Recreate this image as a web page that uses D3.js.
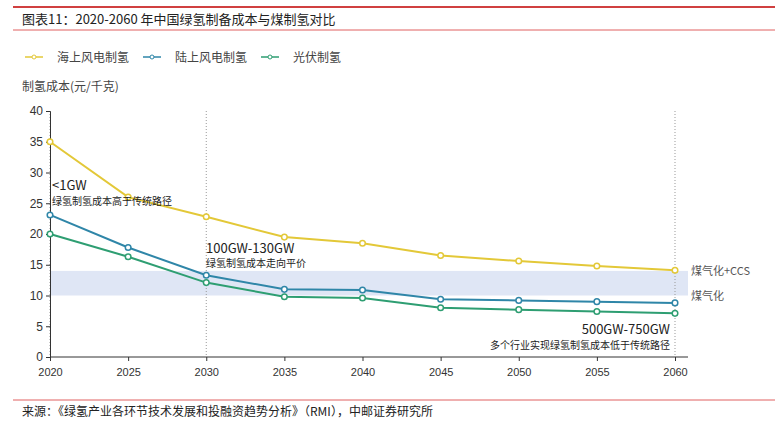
<!DOCTYPE html>
<html><head><meta charset="utf-8">
<script src="https://cdn.jsdelivr.net/npm/d3@7"></script>
<style>body{margin:0;background:#fff;font-family:"Noto Sans CJK SC","Noto Sans",sans-serif;}</style>
</head><body><svg width="775" height="425"></svg>
<script>
var years = [2020, 2025, 2030, 2035, 2040, 2045, 2050, 2055, 2060];
var offshore = [35, 26, 22.8, 19.5, 18.5, 16.5, 15.6, 14.8, 14.1];
var onshore = [23.1, 17.8, 13.3, 11, 10.9, 9.4, 9.2, 9.0, 8.8];
var solar = [20, 16.3, 12.1, 9.8, 9.6, 8, 7.7, 7.4, 7.1];
var names = ["海上风电制氢", "陆上风电制氢", "光伏制氢"];
var colors = ["#e3c838", "#2f86a8", "#2e9e72"];
var yTicks = [0, 5, 10, 15, 20, 25, 30, 35, 40];

var svg = d3.select("svg");
var x = d3.scaleLinear().domain([2020, 2060]).range([50, 675]);
var y = d3.scaleLinear().domain([0, 40]).range([357, 111]);

// title
svg.append("line").attr("x1", 13).attr("x2", 775).attr("y1", 7).attr("y2", 7).attr("stroke", "#c00000").attr("stroke-width", 1.5);
svg.append("text").attr("x", 22).attr("y", 24).attr("font-size", 13).attr("fill", "#222").text("图表11：2020-2060 年中国绿氢制备成本与煤制氢对比");
svg.append("line").attr("x1", 13).attr("x2", 775).attr("y1", 30).attr("y2", 30).attr("stroke", "#e06060").attr("stroke-width", 1);

// legend
var lg = svg.selectAll(".lg").data(names).enter().append("g").attr("transform", function(d, i){return "translate(" + (25 + i*118) + ",57)";});
lg.append("line").attr("x1", 0).attr("x2", 18).attr("stroke", function(d, i){return colors[i];}).attr("stroke-width", 1.5);
lg.append("circle").attr("cx", 9).attr("r", 2).attr("fill", "#fff").attr("stroke", function(d, i){return colors[i];});
lg.append("text").attr("x", 32).attr("y", 5).attr("font-size", 12).attr("fill", "#444").text(function(d){return d;});
svg.append("text").attr("x", 22).attr("y", 91).attr("font-size", 12).attr("fill", "#444").text("制氢成本(元/千克)");

// band
svg.append("rect").attr("x", x(2020)).attr("width", 688 - x(2020)).attr("y", y(14)).attr("height", y(10) - y(14)).attr("fill", "#dfe6f5");
svg.append("text").attr("x", 691).attr("y", y(14) + 4).attr("font-size", 11).attr("fill", "#555").text("煤气化+CCS");
svg.append("text").attr("x", 691).attr("y", y(10) + 4).attr("font-size", 11).attr("fill", "#555").text("煤气化");

// dotted verticals
[2020, 2030, 2060].forEach(function(v){
  svg.append("line").attr("x1", x(v)).attr("x2", x(v)).attr("y1", y(40)).attr("y2", y(0)).attr("stroke", "#999").attr("stroke-dasharray", "1,2");
});

// axes
var ya = svg.append("g").attr("transform", "translate(" + x(2020) + ",0)").call(d3.axisLeft(y).tickValues(yTicks).tickSize(4));
ya.selectAll("text").attr("font-size", 12).attr("fill", "#333");
var xa = svg.append("g").attr("transform", "translate(0," + y(0) + ")").call(d3.axisBottom(x).tickValues(years).tickFormat(d3.format("d")).tickSize(4).tickPadding(7));
xa.select(".domain").attr("d", "M" + x(2020) + ",0H688");
xa.selectAll("text").attr("font-size", 11).attr("fill", "#333");
[ya, xa].forEach(function(a){a.selectAll("path,line").attr("stroke", "#333");});

// lines
var line = d3.line().x(function(d, i){return x(years[i]);}).y(function(d){return y(d);});
[offshore, onshore, solar].forEach(function(s, k){
  svg.append("path").attr("d", line(s)).attr("fill", "none").attr("stroke", colors[k]).attr("stroke-width", 2);
  svg.selectAll(".p" + k).data(s).enter().append("circle").attr("cx", function(d, i){return x(years[i]);}).attr("cy", function(d){return y(d);})
    .attr("r", 2.8).attr("fill", "#fff").attr("stroke", colors[k]).attr("stroke-width", 1.5);
});

// annotations
svg.append("text").attr("x", 52).attr("y", 190).attr("font-size", 13).attr("fill", "#222").text("<1GW");
svg.append("text").attr("x", 52).attr("y", 205).attr("font-size", 10).attr("fill", "#222").text("绿氢制氢成本高于传统路径");
svg.append("text").attr("x", 206).attr("y", 253).attr("font-size", 13).attr("fill", "#222").text("100GW-130GW");
svg.append("text").attr("x", 206).attr("y", 267).attr("font-size", 10).attr("fill", "#222").text("绿氢制氢成本走向平价");
svg.append("text").attr("x", 670).attr("y", 334).attr("text-anchor", "end").attr("font-size", 13).attr("fill", "#222").text("500GW-750GW");
svg.append("text").attr("x", 670).attr("y", 349).attr("text-anchor", "end").attr("font-size", 10).attr("fill", "#222").text("多个行业实现绿氢制氢成本低于传统路径");

// footer
svg.append("line").attr("x1", 13).attr("x2", 775).attr("y1", 400).attr("y2", 400).attr("stroke", "#e06060").attr("stroke-width", 1);
svg.append("text").attr("x", 22).attr("y", 416).attr("font-size", 12).attr("fill", "#222").text("来源：《绿氢产业各环节技术发展和投融资趋势分析》（RMI），中邮证券研究所");
</script></body></html>
